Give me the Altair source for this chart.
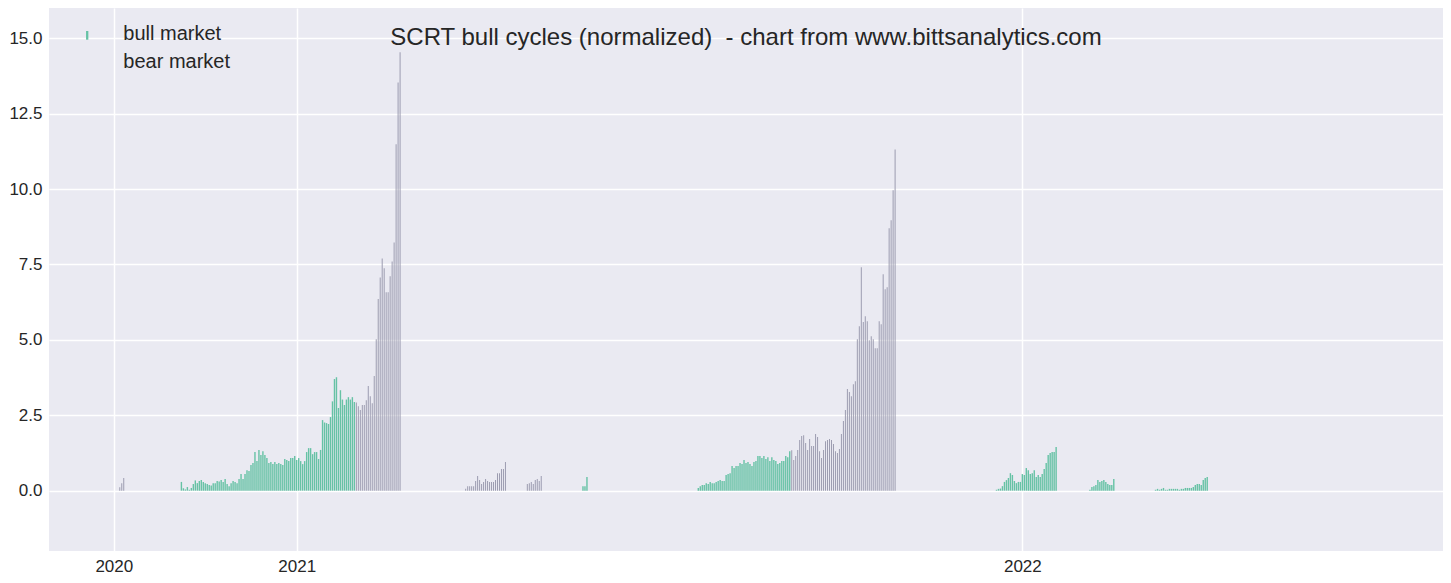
import altair as alt
import pandas as pd

# ---------------- data ----------------
REF_DAY = "2021-01-01"

seg_starts = ["2020-10-04", "2020-11-04", "2021-01-31", "2021-03-27", "2021-04-27",
              "2021-05-25", "2021-07-22", "2021-09-07", "2021-12-19", "2022-02-04",
              "2022-03-09"]
seg_phase = ["bear market", "bull market", "bear market", "bear market", "bear market",
             "bull market", "bull market", "bear market", "bull market", "bull market",
             "bull market"]

vals_oct2020 = [0.11, 0.25, 0.42]
vals_bull_2020 = [
    0.29, 0.08, 0.04, 0.12, 0.03, 0.09, 0.22, 0.34, 0.25, 0.32,
    0.35, 0.29, 0.25, 0.22, 0.19, 0.17, 0.25, 0.25, 0.32, 0.30,
    0.35, 0.29, 0.39, 0.22, 0.15, 0.25, 0.32, 0.29, 0.25, 0.39,
    0.55, 0.39, 0.55, 0.68, 0.65, 0.85, 0.92, 1.28, 0.98, 1.35,
    1.18, 1.31, 1.18, 1.08, 0.92, 0.95, 0.88, 0.95, 0.88, 0.92,
    0.88, 0.85, 1.05, 1.02, 0.98, 1.08, 1.08, 1.15, 1.02, 1.08,
    0.98, 0.88, 0.98, 1.28, 1.41, 1.41, 1.21, 1.28, 1.28, 1.05,
    1.35, 2.34, 2.26, 2.24, 2.21, 2.44, 2.96, 3.70, 3.76, 2.74,
    3.33, 3.02, 2.84, 3.02, 3.10, 3.02, 3.10, 2.94]
vals_bear_2021a = [2.92, 2.80, 2.67, 2.84, 2.84, 3.00, 3.47, 3.13, 2.90, 3.80,
                   5.02, 6.35, 7.07, 7.70, 7.37, 6.58, 6.58, 7.11, 7.60, 8.23,
                   11.48, 13.53, 14.53]
vals_mar2021 = [0.06, 0.15, 0.15, 0.15, 0.15, 0.32, 0.49, 0.35, 0.22, 0.29,
                0.39, 0.32, 0.29, 0.29, 0.29, 0.35, 0.58, 0.58, 0.72, 0.72, 0.95]
vals_apr2021 = [0.22, 0.25, 0.29, 0.22, 0.35, 0.39, 0.32, 0.49]
vals_may2021 = [0.15, 0.15, 0.45]
vals_bull_2021 = [
    0.09, 0.15, 0.19, 0.19, 0.25, 0.22, 0.29, 0.25, 0.25, 0.29,
    0.32, 0.35, 0.32, 0.32, 0.52, 0.55, 0.58, 0.82, 0.75, 0.82,
    0.82, 0.92, 0.88, 1.02, 0.92, 0.95, 0.88, 0.82, 0.95, 0.98,
    1.15, 1.15, 1.08, 1.15, 1.05, 1.11, 0.98, 1.11, 1.02, 0.98,
    0.88, 0.92, 0.98, 0.98, 1.15, 1.11, 1.31]
vals_bear_2021b = [
    1.34, 1.02, 1.15, 1.35, 1.68, 1.81, 1.84, 1.58, 1.35, 1.71, 1.48,
    1.48, 1.88, 1.78, 1.31, 1.08, 1.35, 1.64, 1.68, 1.71, 1.68,
    1.55, 1.31, 1.25, 1.38, 1.88, 2.31, 2.67, 3.37, 3.27, 3.13,
    3.53, 3.63, 5.02, 5.45, 7.41, 5.59, 5.78, 5.62, 4.99, 5.12,
    5.02, 4.72, 4.72, 5.62, 5.52, 7.17, 6.68, 6.74, 8.70, 8.96,
    9.96, 11.31]
vals_dec2021 = [0.03, 0.06, 0.07, 0.15, 0.29, 0.35, 0.42, 0.58, 0.52, 0.32,
                0.25, 0.29, 0.29, 0.55, 0.52, 0.75, 0.68, 0.55, 0.58, 0.68,
                0.45, 0.52, 0.45, 0.55, 0.72, 0.92, 1.18, 1.25, 1.28, 1.28, 1.45]
vals_feb2022 = [0.03, 0.12, 0.15, 0.19, 0.35, 0.29, 0.32, 0.35, 0.29, 0.22,
                0.19, 0.19, 0.39]
vals_mar2022 = [0.03, 0.06, 0.03, 0.06, 0.09, 0.03, 0.03, 0.06, 0.06, 0.06,
                0.06, 0.06, 0.03, 0.06, 0.06, 0.09, 0.09, 0.09, 0.09, 0.12,
                0.19, 0.22, 0.22, 0.19, 0.35, 0.42, 0.45]

seg_values = [vals_oct2020, vals_bull_2020, vals_bear_2021a, vals_mar2021, vals_apr2021,
              vals_may2021, vals_bull_2021, vals_bear_2021b, vals_dec2021, vals_feb2022,
              vals_mar2022]

tick_dates = ["2020-10-01", "2021-01-01", "2022-01-01"]
tick_labels = ["2020", "2021", "2022"]
x_domain_dates = ["2020-08-29T09:36", "2022-07-31T14:24"]
y_ticks = [0, 2.5, 5, 7.5, 10, 12.5, 15]
y_domain = [-2, 16]

legend_labels = ["bull market", "bear market"]
TITLE = "SCRT bull cycles (normalized) \u00a0- chart from www.bittsanalytics.com"

# ---------------- table ----------------
ref = pd.Timestamp(REF_DAY)
rows = []
for start, phase, vals in zip(seg_starts, seg_phase, seg_values):
    dates = pd.date_range(start, periods=len(vals), freq="D")
    for dt, v in zip(dates, vals):
        rows.append({"date": dt.strftime("%Y-%m-%d"),
                     "d": (dt - ref) / pd.Timedelta(days=1),
                     "v": v, "phase": phase})
df = pd.DataFrame(rows)

def off(s):
    return (pd.Timestamp(s) - ref) / pd.Timedelta(days=1)

tick_vals = [off(s) for s in tick_dates]
x_dom = [off(s) for s in x_domain_dates]
label_expr = "''"
for tv, tl in reversed(list(zip(tick_vals, tick_labels))):
    label_expr = f"abs(datum.value - ({tv})) < 0.5 ? '{tl}' : ({label_expr})"

# ---------------- styling ----------------
FONT = "Liberation Sans"
TXT = "#262626"
BG = "#EAEAF2"
BULL = "#66C2A5"
BEAR = "#9C9CB0"
W, H = 1394, 543

x_enc = alt.X("d:Q", scale=alt.Scale(domain=x_dom, nice=False, zero=False, padding=0),
              axis=alt.Axis(values=tick_vals, labelExpr=label_expr, title=None,
                            labelPadding=7))
y_enc = alt.Y("v:Q", scale=alt.Scale(domain=y_domain, nice=False, zero=False, padding=0),
              axis=alt.Axis(values=y_ticks, format=".1f", title=None, labelPadding=7))

base = alt.Chart(df)
bull = base.transform_filter("datum.phase == 'bull market'").mark_bar(
    size=1.4, color=BULL
).encode(x=x_enc, y=y_enc, y2=alt.datum(0))
bear = base.transform_filter("datum.phase == 'bear market'").mark_bar(
    size=1.0, color=BEAR
).encode(x=x_enc, y=y_enc, y2=alt.datum(0))

one = pd.DataFrame({"k": [0]})
title = alt.Chart(one).mark_text(
    text=TITLE, font=FONT, fontSize=24, color=TXT, align="center", baseline="alphabetic"
).encode(x=alt.value(W / 2), y=alt.value(37))

leg_mark = alt.Chart(one).mark_rule(color=BULL, strokeWidth=2.3).encode(
    x=alt.value(38.2), y=alt.value(23), y2=alt.value(31.7))
leg_t1 = alt.Chart(one).mark_text(
    text=legend_labels[0], font=FONT, fontSize=20, color=TXT, align="left", baseline="alphabetic"
).encode(x=alt.value(74.3), y=alt.value(32))
leg_t2 = alt.Chart(one).mark_text(
    text=legend_labels[1], font=FONT, fontSize=20, color=TXT, align="left", baseline="alphabetic"
).encode(x=alt.value(74.3), y=alt.value(60.3))

chart = alt.layer(bull, bear, title, leg_mark, leg_t1, leg_t2).properties(
    width=W, height=H,
    padding={"left": 41, "top": 0, "right": 0, "bottom": 24},
    autosize=alt.AutoSizeParams(type="none"),
    background="white",
).configure_view(
    fill=BG, stroke=None
).configure_axis(
    grid=True, gridColor="white", gridWidth=1.5, gridOpacity=1,
    domain=False, ticks=False, tickSize=0,
    labelFont=FONT, labelFontSize=17, labelColor=TXT,
)

chart.save("out.html", embed_options={"renderer": "svg", "actions": False})
